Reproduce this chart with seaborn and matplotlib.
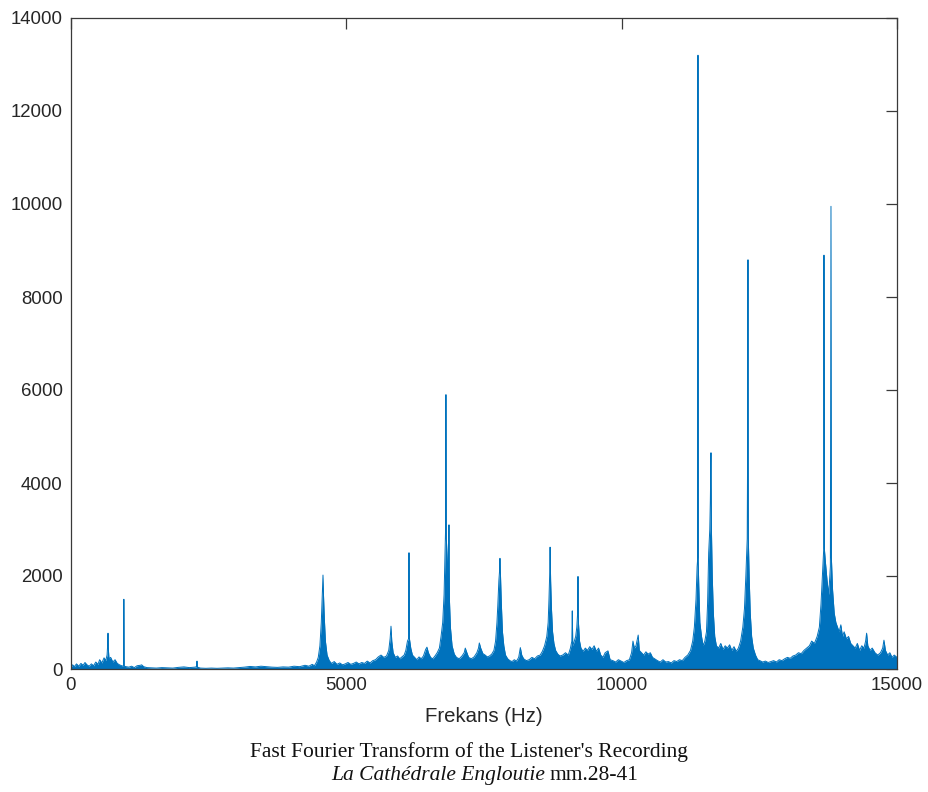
import matplotlib
matplotlib.use("Agg")
import matplotlib.pyplot as plt
import seaborn as sns
import pandas as pd

# ---- data (frequency in Hz, FFT magnitude) ----
freq_hz = [
    0, 30, 60, 100, 140, 180, 220, 254, 290, 330, 370, 410, 450, 490, 520, 560, 600, 630, 655, 665, 672, 680, 690,
    720, 760, 800, 840, 880, 920, 955, 960, 966, 1000,
    1050, 1100, 1150, 1200, 1260, 1283, 1320, 1380, 1450, 1550, 1650, 1750, 1850, 1950, 2050, 2150, 2250, 2280,
    2288, 2296, 2350,
    2450, 2550, 2650, 2750, 2850, 2950, 3050, 3150, 3250, 3350, 3450, 3550, 3650, 3750, 3850, 3950, 4050, 4150,
    4250, 4320, 4380, 4420, 4460,
    4490, 4520, 4545, 4560, 4568, 4576, 4585, 4600, 4620, 4650, 4690, 4730, 4780, 4830, 4880, 4930, 4980, 5030,
    5080, 5130, 5180, 5230, 5280, 5330, 5380, 5430, 5480, 5530, 5580, 5630, 5680, 5730, 5770, 5795, 5811, 5825,
    5850, 5890, 5930, 5970, 6010, 6050, 6080, 6110, 6130, 6138, 6146, 6170, 6200, 6240, 6280, 6320, 6360, 6400,
    6440, 6464, 6490, 6530, 6570, 6610, 6650, 6690, 6720, 6750, 6775, 6795, 6802, 6809, 6816, 6835, 6855, 6864,
    6872, 6890, 6920, 6960, 7000, 7050, 7100, 7140, 7160, 7180, 7220, 7270, 7320, 7370, 7400, 7415, 7440, 7480,
    7520, 7560, 7600, 7640, 7680, 7710, 7735, 7750, 7770, 7782, 7790, 7800, 7815, 7835, 7860, 7890, 7930, 7970,
    8010, 8050, 8090, 8130, 8160, 8185, 8220, 8270, 8320, 8370, 8420, 8470, 8520, 8560, 8600, 8640, 8665, 8680,
    8692, 8700, 8710, 8725, 8745, 8770, 8800, 8840, 8880, 8930, 8980, 9030, 9070, 9095, 9103, 9112, 9140, 9165,
    9185, 9200, 9207, 9215, 9235, 9260, 9300, 9340, 9380, 9420, 9460, 9500, 9540, 9580, 9620, 9660, 9700, 9751,
    9790, 9840, 9890, 9940, 9990, 10040, 10090, 10140, 10180, 10205, 10230, 10260, 10300, 10320, 10360, 10400,
    10440, 10480, 10520, 10560, 10600, 10650, 10700, 10750, 10800, 10850, 10900, 10950, 11000, 11050, 11100,
    11150, 11200, 11250, 11290, 11320, 11350, 11370, 11382, 11386, 11390, 11400, 11420, 11450, 11480, 11510,
    11540, 11560, 11580, 11600, 11610, 11622, 11630, 11645, 11665, 11690, 11720, 11760, 11800, 11840, 11880,
    11920, 11960, 12000, 12040, 12080, 12120, 12160, 12200, 12230, 12255, 12270, 12280, 12288, 12294, 12300,
    12315, 12335, 12360, 12390, 12430, 12470, 12510, 12560, 12610, 12660, 12710, 12760, 12810, 12860, 12910,
    12960, 13010, 13060, 13110, 13160, 13210, 13260, 13310, 13360, 13410, 13450, 13500, 13550, 13590, 13620,
    13645, 13660, 13670, 13674, 13680, 13700, 13730, 13760, 13790, 13801, 13808, 13830, 13860, 13890, 13920,
    13950, 13980, 14010, 14040, 14080, 14120, 14160, 14200, 14240, 14280, 14320, 14360, 14400, 14430, 14448,
    14470, 14510, 14550, 14600, 14650, 14700, 14740, 14763, 14790, 14830, 14870, 14910, 14950, 15000,
]
magnitude = [
    40, 90, 50, 110, 60, 120, 80, 140, 90, 60, 110, 70, 150, 100, 200, 130, 240, 180, 300, 500, 770, 400, 220,
    250, 150, 200, 120, 90, 70, 60, 1500, 60, 50,
    40, 60, 30, 70, 80, 90, 50, 30, 25, 20, 30, 25, 20, 35, 45, 30, 40, 50,
    170, 40, 20,
    15, 20, 15, 20, 25, 20, 30, 40, 55, 45, 60, 50, 40, 35, 45, 40, 60, 50,
    80, 60, 100, 70, 150,
    250, 500, 1000, 1500, 1750, 2020, 1600, 1100, 600, 300, 180, 120, 160, 100, 130, 90, 110, 140,
    100, 120, 150, 110, 140, 120, 170, 130, 180, 200, 260, 300, 250, 280, 400, 650, 920, 600,
    350, 250, 280, 220, 260, 300, 400, 600, 650, 2500, 650, 450, 300, 250, 200, 260, 220, 280,
    420, 470, 350, 250, 220, 280, 350, 450, 700, 1000, 1600, 2600, 3000, 5900, 2800, 2300, 2000, 3100,
    1500, 900, 500, 320, 250, 220, 280, 350, 450, 380, 250, 220, 260, 350, 450, 560, 450, 330,
    300, 260, 280, 320, 400, 600, 1000, 1350, 1900, 2100, 2380, 2000, 1400, 800, 500, 300, 220, 180,
    160, 200, 170, 250, 460, 300, 220, 180, 200, 250, 220, 280, 300, 380, 500, 700, 1000, 1500,
    2000, 2620, 1900, 1300, 800, 550, 400, 320, 280, 300, 350, 300, 450, 600, 1250, 500, 600, 700,
    900, 1200, 1990, 1000, 600, 450, 380, 450, 400, 480, 420, 500, 380, 450, 300, 250, 350, 390,
    200, 180, 150, 200, 170, 140, 180, 200, 350, 600, 450, 500, 730, 400, 350, 300,
    370, 320, 350, 250, 220, 180, 150, 200, 150, 160, 130, 180, 160, 200, 180,
    250, 300, 400, 600, 900, 1500, 2200, 2400, 13200, 2300, 1800, 1000, 700, 500, 600,
    800, 1400, 2500, 3000, 3600, 4650, 3000, 2000, 1200, 700, 500, 450, 550, 420, 500,
    450, 520, 400, 480, 380, 450, 600, 900, 1300, 2000, 2500, 2800, 5000, 8800, 2800,
    2000, 1200, 700, 450, 300, 200, 180, 150, 170, 140, 160, 180, 150, 200, 180,
    220, 250, 230, 280, 300, 350, 330, 400, 450, 500, 600, 550, 700, 900, 1400,
    2000, 2400, 2600, 8900, 2600, 2300, 1900, 1600, 2200, 9950, 2400, 1700, 1200, 1000, 900,
    800, 950, 700, 800, 650, 700, 550, 500, 450, 550, 400, 500, 450, 600, 770,
    500, 400, 450, 350, 300, 350, 450, 620, 400, 300, 350, 250, 300, 250,
]

x_ticks = [0, 5000, 10000, 15000]
y_ticks = [0, 2000, 4000, 6000, 8000, 10000, 12000, 14000]
x_label = "Frekans (Hz)"
caption_line1 = "Fast Fourier Transform of the Listener's Recording"
caption_italic = "La Cathédrale Engloutie"
caption_rest = "mm.28-41"

df = pd.DataFrame({"freq": freq_hz, "mag": magnitude})

sns.set_style("white")
plt.rcParams["font.family"] = ["Liberation Sans", "DejaVu Sans"]

line_color = "#0072BD"
axis_color = "#3a3a3a"

fig = plt.figure(figsize=(9.29, 7.92), dpi=100)
ax = fig.add_axes([71 / 929, 1 - 669 / 792, 826 / 929, 651 / 792])

ax.fill_between(df["freq"], 0, df["mag"], color=line_color, linewidth=0, alpha=1.0)
sns.lineplot(data=df, x="freq", y="mag", sort=False, estimator=None, color=line_color,
             linewidth=0.7, ax=ax)

ax.set_xlim(0, 15000)
ax.set_ylim(0, 14000)
ax.set_xticks(x_ticks)
ax.set_yticks(y_ticks)
ax.set_xticklabels([str(v) for v in x_ticks])
ax.set_yticklabels([str(v) for v in y_ticks])
ax.set_ylabel("")
ax.set_xlabel(x_label, fontsize=14.7, color="#262626", labelpad=9)

for s in ax.spines.values():
    s.set_visible(True)
    s.set_color(axis_color)
    s.set_linewidth(0.9)
ax.tick_params(direction="in", length=8, width=0.9, color=axis_color,
               top=True, right=True, labelsize=13.4, labelcolor="#262626", pad=6)

cap_size = 15.5
fig.text(469 / 929, 1 - 757 / 792, caption_line1, ha="center", va="baseline",
         family="Liberation Serif", fontsize=cap_size, color="#111111")
fig.text(545 / 929, 1 - 780 / 792, caption_italic, ha="right", va="baseline",
         family="Liberation Serif", style="italic", fontsize=cap_size, color="#111111")
fig.text(550 / 929, 1 - 780 / 792, caption_rest, ha="left", va="baseline",
         family="Liberation Serif", fontsize=cap_size, color="#111111")

fig.savefig("out.png", dpi=100, facecolor="white")
